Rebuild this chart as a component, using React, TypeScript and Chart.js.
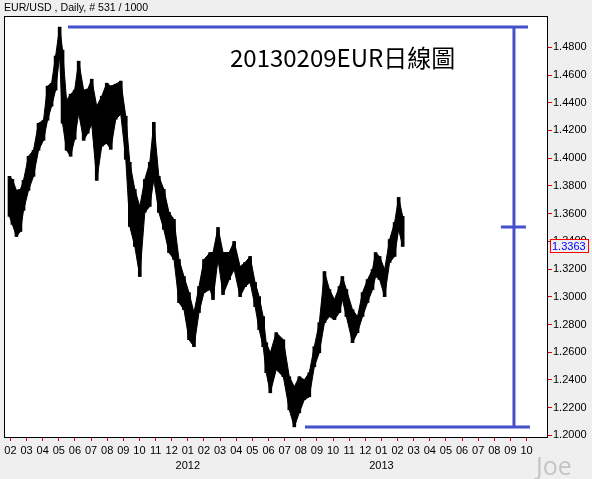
import { useEffect, useRef } from "react";
import { Chart, registerables } from "chart.js";

Chart.register(...registerables);

// ---- data (months since 1 Feb 2011, sampled highs / lows) ----
const t = [-0.06, 0.12, 0.37, 0.62, 0.81, 1.12, 1.43, 1.74, 2.05, 2.3, 2.55, 2.8, 3.05, 3.23, 3.48, 3.73, 3.98, 4.23, 4.54, 4.79, 5.04, 5.35, 5.66, 5.97, 6.22, 6.53, 6.84, 7.15, 7.4, 7.71, 8.02, 8.33, 8.64, 8.89, 9.2, 9.51, 9.83, 10.14, 10.45, 10.76, 11.07, 11.38, 11.69, 12.0, 12.38, 12.56, 12.87, 13.18, 13.56, 13.87, 14.24, 14.55, 14.86, 15.17, 15.42, 15.67, 15.86, 16.11, 16.48, 16.92, 17.29, 17.6, 17.91, 18.22, 18.53, 18.84, 19.15, 19.47, 19.78, 20.09, 20.4, 20.58, 20.83, 21.21, 21.52, 21.83, 22.14, 22.45, 22.64, 22.89, 23.2, 23.51, 23.82, 24.07, 24.32];

const highs = [1.3869, 1.3847, 1.3768, 1.3775, 1.384, 1.4014, 1.4057, 1.4252, 1.4274, 1.452, 1.4541, 1.4737, 1.4946, 1.478, 1.4418, 1.4462, 1.4491, 1.47, 1.4491, 1.4498, 1.457, 1.4375, 1.4447, 1.4541, 1.452, 1.4534, 1.4556, 1.4303, 1.397, 1.3775, 1.3652, 1.3847, 1.397, 1.4259, 1.3869, 1.3775, 1.3609, 1.3558, 1.3269, 1.3146, 1.303, 1.2886, 1.3074, 1.3269, 1.3319, 1.3319, 1.35, 1.3319, 1.3319, 1.3399, 1.3218, 1.3247, 1.3291, 1.3103, 1.3001, 1.2857, 1.2669, 1.2596, 1.2741, 1.269, 1.2423, 1.2351, 1.2423, 1.2401, 1.2452, 1.264, 1.2813, 1.3182, 1.3052, 1.298, 1.3074, 1.3146, 1.3052, 1.2907, 1.2857, 1.303, 1.3124, 1.3197, 1.3319, 1.3291, 1.3197, 1.3413, 1.3536, 1.3717, 1.358];

const lows = [1.358, 1.3522, 1.3435, 1.3471, 1.3623, 1.3768, 1.3869, 1.4057, 1.4129, 1.4274, 1.4375, 1.4491, 1.4737, 1.4252, 1.4057, 1.4014, 1.4136, 1.4324, 1.4129, 1.418, 1.4245, 1.384, 1.4086, 1.4108, 1.4064, 1.4281, 1.4317, 1.3992, 1.3507, 1.3363, 1.3146, 1.3609, 1.3652, 1.3847, 1.3609, 1.3486, 1.3319, 1.3269, 1.2958, 1.2907, 1.269, 1.264, 1.2886, 1.303, 1.3052, 1.298, 1.3269, 1.3016, 1.3124, 1.3197, 1.3001, 1.3074, 1.3103, 1.2929, 1.2763, 1.264, 1.2452, 1.2307, 1.2474, 1.2423, 1.2184, 1.2061, 1.2163, 1.2257, 1.2278, 1.2495, 1.2596, 1.2813, 1.2857, 1.2835, 1.2886, 1.298, 1.2857, 1.2669, 1.2741, 1.2857, 1.2958, 1.3052, 1.3146, 1.3124, 1.3001, 1.3247, 1.3291, 1.3486, 1.3363];

const lastClose = 1.3363;

// ---- axis ticks ----
const monthTicks = [0, 1, 2, 3, 4, 5, 6, 7, 8, 9, 10, 11, 12, 13, 14, 15, 16, 17, 18, 19, 20, 21, 22, 23, 24, 25, 26, 27, 28, 29, 30, 31, 32];
const monthLabels = ["02", "03", "04", "05", "06", "07", "08", "09", "10", "11", "12", "01", "02", "03", "04", "05", "06", "07", "08", "09", "10", "11", "12", "01", "02", "03", "04", "05", "06", "07", "08", "09", "10"];
const yearTicks = [11, 23];
const yearLabels = ["2012", "2013"];
const priceTicks = [1.2, 1.22, 1.24, 1.26, 1.28, 1.3, 1.32, 1.34, 1.36, 1.38, 1.4, 1.42, 1.44, 1.46, 1.48];

// ---- annotation extents (months) ----
const topLineFrom = 3.57;
const topLineTo = 32.09;
const bottomLineFrom = 18.26;
const bottomLineTo = 32.21;
const verticalAt = 31.22;
const midFrom = 30.41;
const midTo = 31.96;

const titleText = "EUR/USD , Daily, # 531 / 1000";
const bigText = "20130209EUR日線圖";
const watermark = "Joe";

const BG = "#efefef";
const BLUE = "#4450cc";
const FONT = "'Liberation Sans', Arial, sans-serif";

const decor = {
  id: "decor",
  beforeDraw(chart: any) {
    const { ctx, chartArea: a } = chart;
    ctx.save();
    ctx.fillStyle = BG;
    ctx.fillRect(0, 0, chart.width, chart.height);
    ctx.fillStyle = "#ffffff";
    ctx.fillRect(a.left, a.top, a.right - a.left, a.bottom - a.top);
    ctx.restore();
  },
  afterDraw(chart: any) {
    const { ctx, chartArea: a, scales } = chart;
    const xs = scales.x;
    const ys = scales.y;
    ctx.save();
    // frame
    ctx.strokeStyle = "#000";
    ctx.lineWidth = 1;
    ctx.strokeRect(a.left + 0.5, a.top + 0.5, a.right - a.left - 1, a.bottom - a.top);

    // blue retracement lines
    const hi = Math.max(...highs);
    const lo = Math.min(...lows);
    const mid = (hi + lo) / 2;
    ctx.strokeStyle = BLUE;
    ctx.lineWidth = 3;
    ctx.beginPath();
    ctx.moveTo(xs.getPixelForValue(topLineFrom), ys.getPixelForValue(hi));
    ctx.lineTo(xs.getPixelForValue(topLineTo), ys.getPixelForValue(hi));
    ctx.moveTo(xs.getPixelForValue(verticalAt), ys.getPixelForValue(hi));
    ctx.lineTo(xs.getPixelForValue(verticalAt), ys.getPixelForValue(lo));
    ctx.moveTo(xs.getPixelForValue(bottomLineFrom), ys.getPixelForValue(lo));
    ctx.lineTo(xs.getPixelForValue(bottomLineTo), ys.getPixelForValue(lo));
    ctx.moveTo(xs.getPixelForValue(midFrom), ys.getPixelForValue(mid));
    ctx.lineTo(xs.getPixelForValue(midTo), ys.getPixelForValue(mid));
    ctx.stroke();

    // title
    ctx.fillStyle = "#000";
    ctx.font = `10.6px ${FONT}`;
    ctx.textBaseline = "middle";
    ctx.textAlign = "left";
    ctx.fillText(titleText, 4, 8);

    // big caption
    ctx.font = `24px 'Noto Sans CJK TC', 'Noto Sans', sans-serif`;
    ctx.fillText(bigText, 230, 58);

    // last price box
    const py = Math.round(ys.getPixelForValue(lastClose));
    ctx.fillStyle = BG;
    ctx.fillRect(550, py - 6, 39, 13);
    ctx.strokeStyle = "#ff0000";
    ctx.lineWidth = 1;
    ctx.strokeRect(550.5, py - 6.5, 38, 13);
    ctx.fillStyle = "#0000ff";
    ctx.font = `11px ${FONT}`;
    ctx.fillText(lastClose.toFixed(4), 552, py + 0.5);

    // watermark
    ctx.fillStyle = "#c4c4c4";
    ctx.font = `25px 'Open Sans', 'Noto Sans', sans-serif`;
    ctx.textBaseline = "alphabetic";
    ctx.fillText(watermark, 536, 475);
    ctx.restore();
  },
};

export default function App() {
  const ref = useRef<HTMLCanvasElement>(null);
  useEffect(() => {
    document.body.style.margin = "0";
    document.body.style.background = BG;
    Chart.defaults.font.family = FONT;
    Chart.defaults.font.size = 11;
    Chart.defaults.color = "#000";
    const chart = new Chart(ref.current as HTMLCanvasElement, {
      type: "line",
      data: {
        datasets: [
          {
            type: "bar",
            data: t.map((x, i) => ({ x, y: [lows[i], highs[i]] })),
            backgroundColor: "#000",
            borderWidth: 0,
            barThickness: 3,
            grouped: false,
            order: 3,
          },
          {
            data: t.map((x, i) => ({ x, y: highs[i] })),
            borderColor: "#000",
            backgroundColor: "#000",
            borderWidth: 1,
            pointRadius: 0,
            tension: 0,
            fill: "+1",
            order: 2,
          },
          {
            data: t.map((x, i) => ({ x, y: lows[i] })),
            borderColor: "#000",
            backgroundColor: "#000",
            borderWidth: 1,
            pointRadius: 0,
            tension: 0,
            fill: false,
            order: 1,
          },
        ],
      },
      options: {
        responsive: false,
        animation: false,
        events: [],
        layout: { padding: { left: 4, top: 16, right: 0, bottom: 0 } },
        plugins: {
          legend: { display: false },
          tooltip: { enabled: false },
        },
        scales: {
          x: {
            type: "linear",
            position: "bottom",
            offset: false,
            min: -0.4,
            max: 33.33,
            afterBuildTicks: (s: any) => {
              s.ticks = monthTicks.map((v) => ({ value: v }));
            },
            afterFit: (s: any) => {
              s.height = 42;
            },
            grid: {
              offset: false,
              drawOnChartArea: false,
              drawTicks: true,
              tickLength: 4,
              tickColor: "#e00000",
              color: "#e00000",
            },
            border: { display: false },
            ticks: {
              autoSkip: false,
              maxRotation: 0,
              minRotation: 0,
              padding: 2,
              color: "#000",
              font: { size: 11, lineHeight: 1.4 },
              callback: (_v: any, i: number) => {
                const m = monthTicks[i];
                const yi = yearTicks.indexOf(m);
                return yi >= 0 ? [monthLabels[i], yearLabels[yi]] : monthLabels[i];
              },
            },
          },
          y: {
            type: "linear",
            position: "right",
            min: 1.1988,
            max: 1.5026,
            afterBuildTicks: (s: any) => {
              s.ticks = priceTicks.map((v) => ({ value: v }));
            },
            afterFit: (s: any) => {
              s.width = 44;
            },
            grid: {
              drawOnChartArea: false,
              drawTicks: true,
              tickLength: 4,
              tickColor: "#e00000",
              color: "#e00000",
            },
            border: { display: false },
            ticks: {
              padding: 1,
              color: "#000",
              font: { size: 11 },
              callback: (v: any) => Number(v).toFixed(4),
            },
          },
        },
      },
      plugins: [decor],
    } as any);
    return () => chart.destroy();
  }, []);
  return (
    <canvas
      ref={ref}
      width={592}
      height={479}
      style={{ display: "block", width: 592, height: 479 }}
    />
  );
}
